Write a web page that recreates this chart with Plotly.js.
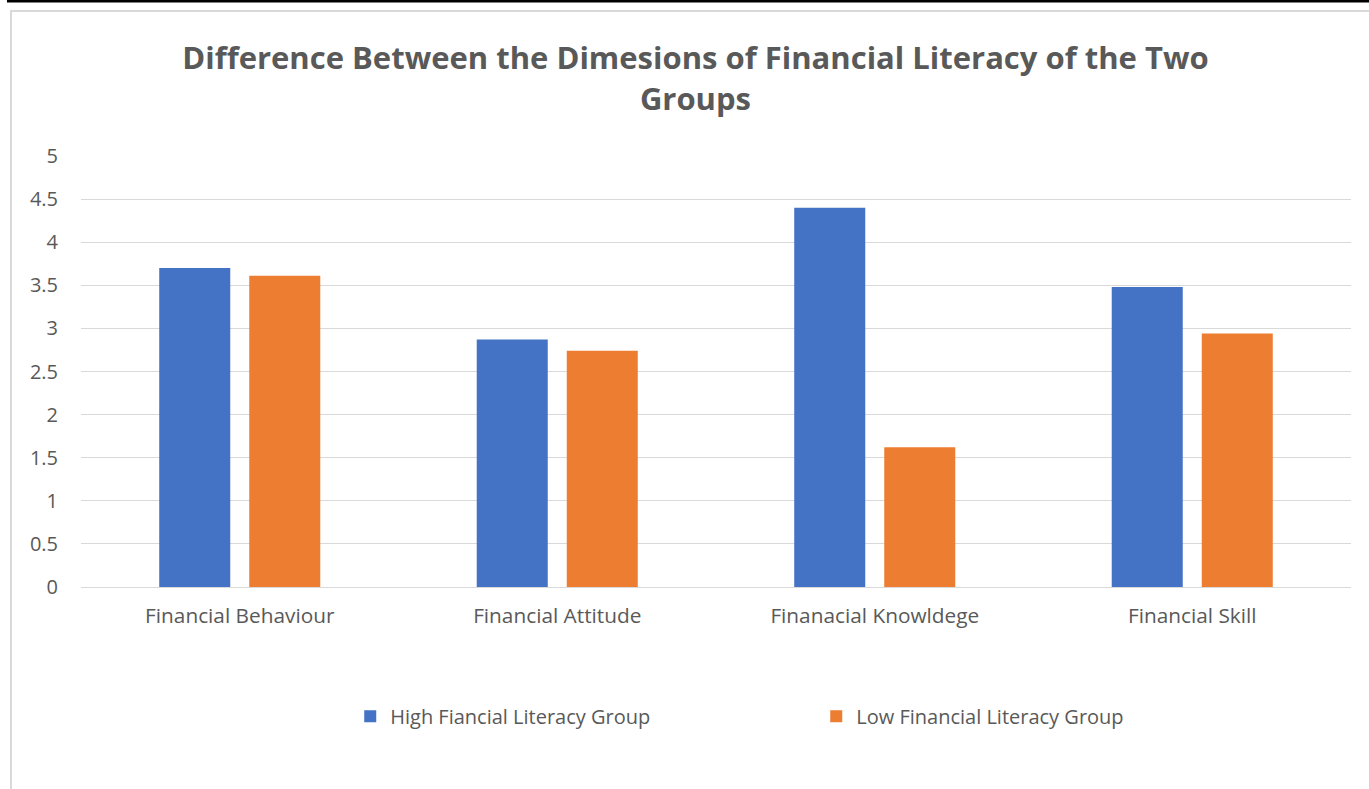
<!DOCTYPE html>
<html>
<head>
<meta charset="utf-8">
<script src="https://cdn.plot.ly/plotly-3.0.1.min.js"></script>
<style>html,body{margin:0;padding:0;background:#fff;}#chart{width:1369px;height:789px;}</style>
</head>
<body>
<div id="chart"></div>
<script>
const categories = ["Financial Behaviour", "Financial Attitude", "Finanacial Knowldege", "Financial Skill"];
const highGroup = [3.70, 2.87, 4.40, 3.48];
const lowGroup = [3.61, 2.74, 1.62, 2.94];
const seriesNames = ["High Fiancial Literacy Group", "Low Financial Literacy Group"];
const yTicks = [0, 0.5, 1, 1.5, 2, 2.5, 3, 3.5, 4, 4.5, 5];
const titleText = "Difference Between the Dimesions of Financial Literacy of the Two<br>Groups";

const fontFam = "'Open Sans', sans-serif";
const data = [
  {type: 'bar', name: seriesNames[0], x: categories, y: highGroup, marker: {color: '#4472C4'}, hoverinfo: 'y'},
  {type: 'bar', name: seriesNames[1], x: categories, y: lowGroup, marker: {color: '#ED7D31'}, hoverinfo: 'y'}
];
const layout = {
  width: 1369, height: 789,
  paper_bgcolor: '#ffffff', plot_bgcolor: '#ffffff',
  margin: {l: 81, r: 18, t: 156, b: 202, autoexpand: false},
  barmode: 'group', bargap: 0.433, bargroupgap: 0.211,
  font: {family: fontFam, color: '#595959', size: 20},
  title: {text: titleText, font: {family: fontFam, size: 31, color: '#595959', weight: 'bold'},
          x: 0.508, xanchor: 'center', y: 0.912, yanchor: 'top', yref: 'container'},
  xaxis: {showgrid: false, showline: false, zeroline: false, ticks: '', tickfont: {size: 20.8, color: '#595959'}, ticklabelstandoff: 14},
  yaxis: {range: [0, 5], tickvals: yTicks, ticktext: yTicks.map(String), showgrid: true, gridcolor: '#d9d9d9', gridwidth: 1,
          zeroline: true, zerolinecolor: '#d9d9d9', zerolinewidth: 1, showline: false, ticks: '', ticklen: 0,
          tickfont: {size: 20, color: '#595959'}, automargin: false, ticklabelstandoff: 22},
  legend: {orientation: 'h', x: 0.212, xanchor: 'left', y: -0.30, yanchor: 'middle', entrywidth: 421, entrywidthmode: 'pixels',
           font: {size: 20, color: '#595959'}, itemwidth: 30},
  showlegend: true,
  shapes: [
    {type: 'rect', xref: 'paper', yref: 'paper', x0: -0.0551, x1: 1.05, y0: -0.6, y1: 1.3364, line: {color: '#d9d9d9', width: 2}, fillcolor: 'rgba(0,0,0,0)', layer: 'below'},
    {type: 'line', xref: 'paper', yref: 'paper', x0: -0.0583, x1: 1.05, y0: 1.3596, y1: 1.3596, line: {color: '#000000', width: 3}}
  ]
};
Plotly.newPlot('chart', data, layout, {displayModeBar: false, staticPlot: true});
</script>
</body>
</html>
